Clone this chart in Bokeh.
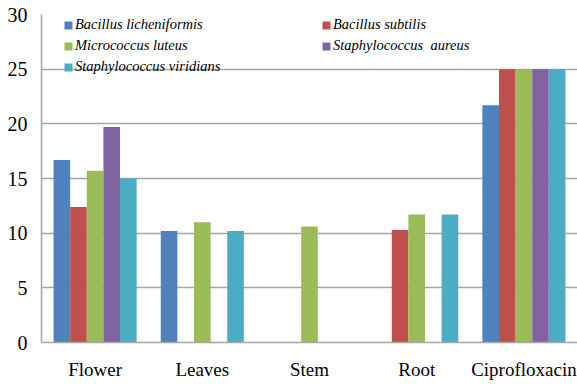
from bokeh.plotting import figure
from bokeh.models import (ColumnDataSource, FactorRange, Range1d, FixedTicker,
                          Legend, LegendItem)
from bokeh.transform import dodge
from bokeh.embed import file_html
from bokeh.resources import INLINE

# Extracts tested, with the reference antibiotic last
categories = ["Flower", "Leaves", "Stem", "Root", "Ciprofloxacin"]

# Inhibition values per bacterium (0 = no bar)
b_licheniformis = [16.7, 10.2, 0.0, 0.0, 21.7]
b_subtilis = [12.4, 0.0, 0.0, 10.3, 25.0]
m_luteus = [15.7, 11.0, 10.6, 11.7, 25.0]
s_aureus = [19.7, 0.0, 0.0, 0.0, 25.0]
s_viridians = [15.0, 10.2, 0.0, 11.7, 25.0]

series_names = ["Bacillus licheniformis", "Bacillus subtilis", "Micrococcus luteus",
                "Staphylococcus  aureus", "Staphylococcus viridians"]
series_values = [b_licheniformis, b_subtilis, m_luteus, s_aureus, s_viridians]
colors = ["#4F81BD", "#C0504D", "#9BBB59", "#8064A2", "#4BACC6"]

y_ticks = [0, 5, 10, 15, 20, 25, 30]

SERIF = "Liberation Serif"

data = {"cat": categories}
keys = ["s0", "s1", "s2", "s3", "s4"]
for k, vals in zip(keys, series_values):
    data[k] = vals
source = ColumnDataSource(data)

p = figure(width=577, height=384, output_backend="svg", toolbar_location=None,
           x_range=FactorRange(*categories, range_padding=0),
           y_range=Range1d(0, 30))
p.min_border_left = 41
p.min_border_right = 0
p.min_border_top = 14
p.min_border_bottom = 42
p.outline_line_color = None
p.background_fill_color = "white"
p.border_fill_color = "white"

bar_w = 0.155
offsets = [-2 * bar_w, -bar_w, 0.0, bar_w, 2 * bar_w]
renderers = []
for k, off, c in zip(keys, offsets, colors):
    r = p.vbar(x=dodge("cat", off, range=p.x_range), top=k, width=bar_w,
               bottom=0, source=source, fill_color=c, line_color=None)
    renderers.append(r)

# Grid and axes
p.xgrid.grid_line_color = None
p.ygrid.grid_line_color = "#a6a6a6"
p.ygrid.grid_line_width = 1.5
p.yaxis.ticker = FixedTicker(ticks=y_ticks)
p.yaxis.axis_line_color = "#a6a6a6"
p.yaxis.axis_line_width = 1.5
p.yaxis.major_tick_line_color = None
p.yaxis.minor_tick_line_color = None
p.yaxis.major_label_standoff = 8
p.yaxis.major_label_text_font = SERIF
p.yaxis.major_label_text_font_size = "20px"
p.yaxis.major_label_text_color = "black"

p.xaxis.axis_line_color = "#a6a6a6"
p.xaxis.axis_line_width = 1.5
p.xaxis.major_tick_line_color = None
p.xaxis.major_label_standoff = 10
p.xaxis.major_label_text_font = SERIF
p.xaxis.major_label_text_font_size = "19px"
p.xaxis.major_label_text_color = "black"


def make_legend(idx, loc):
    items = [LegendItem(label=series_names[i], renderers=[renderers[i]]) for i in idx]
    lg = Legend(items=items, location=loc, orientation="vertical",
                label_text_font=SERIF, label_text_font_style="italic",
                label_text_font_size="14.5px", label_text_color="black",
                glyph_width=10, glyph_height=10, label_standoff=2,
                label_height=21, spacing=0, padding=0, margin=0,
                border_line_color=None, background_fill_alpha=0)
    return lg


p.add_layout(make_legend([0, 2, 4], (22, 265)), "center")
p.add_layout(make_legend([1, 3], (280, 286)), "center")

open("out.html", "w").write(file_html(p, INLINE))
